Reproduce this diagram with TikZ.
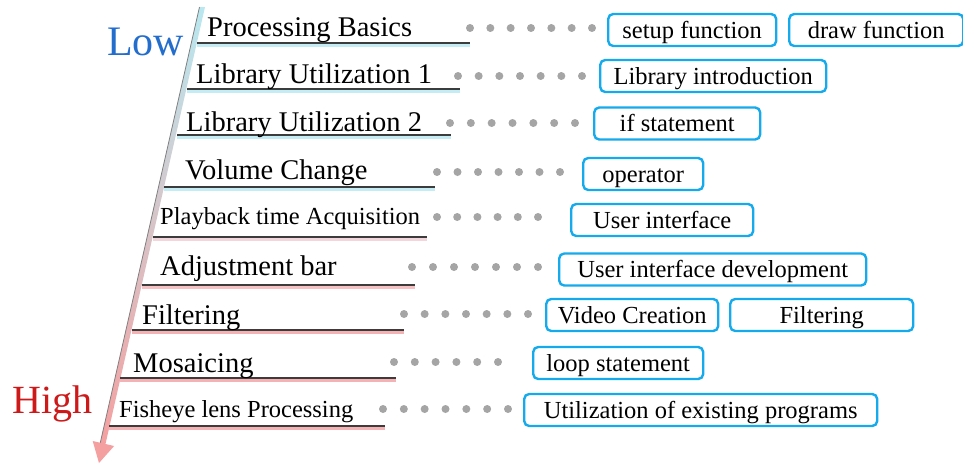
\documentclass[tikz,border=0pt]{standalone}
\usepackage{fontspec}
\setmainfont{Liberation Serif}
\usetikzlibrary{calc}
\definecolor{boxcyan}{RGB}{20,170,235}
\definecolor{dotgray}{RGB}{165,165,165}
\definecolor{rungdark}{RGB}{60,60,60}
\definecolor{rungblue}{RGB}{195,236,244}
\definecolor{runglightpink}{RGB}{242,214,220}
\definecolor{rungpink}{RGB}{245,178,180}
\definecolor{axisblue}{RGB}{185,232,240}
\definecolor{axismid}{RGB}{238,236,242}
\definecolor{axispink}{RGB}{245,160,160}
\definecolor{lowblue}{RGB}{35,110,205}
\definecolor{highred}{RGB}{205,25,25}

\begin{document}
\begin{tikzpicture}[x=1pt,y=-1pt,
    lvltext/.style={anchor=base west, inner sep=0pt, font=\fontsize{28.5}{31}\selectfont},
    lvlsmall/.style={lvltext, font=\fontsize{24.5}{28}\selectfont},
    topic/.style={draw=boxcyan, line width=2.4pt, rounded corners=5pt, anchor=west,
        minimum height=32pt, inner sep=0pt, text height=19pt, text depth=3pt,
        font=\fontsize{24.5}{28}\selectfont},
    rung/.style={draw=rungdark, line width=1.8pt},
    under/.style={line width=3pt},
    greydot/.style={fill=dotgray}]
    \useasboundingbox (0,0) rectangle (963,464);
    % Axis from Low to High
    \coordinate (axtop) at (202,7);
    \coordinate (axtip) at (99,463);
    \shade[top color=axisblue, middle color=axismid, bottom color=axispink]
        (199.5,7) -- (205,7) -- (105.5,444) -- (100,444) -- cycle;
    \draw[gray, line width=0.8pt] (199.5,7) -- (100,444);
    \fill[axispink] (92.7,441) -- (114.1,446) -- (axtip) -- cycle;
    \node[anchor=base west, inner sep=0pt, text=lowblue, font=\fontsize{42}{44}\selectfont] (low) at (107,55) {Low};
    \node[anchor=base west, inner sep=0pt, text=highred, font=\fontsize{40}{44}\selectfont] (high) at (12,413) {High};

    % Processing Basics
    \draw[under, rungblue] (197,45.5) -- (470,45.5);
    \draw[rung] (197,43) -- (470,43);
    \node[lvltext] (r1) at (207,36) {Processing Basics};
    \node[topic, minimum width=168pt] (b1a) at (607,30) {setup function};
    \node[topic, minimum width=174pt] (b1b) at (788,30) {draw function};
    \coordinate (d1s) at (470,28); \coordinate (d1e) at (592,28);
    \foreach \k in {0,...,6} \fill[greydot] ($(d1s)!\k/6!(d1e)$) circle[radius=4];

    % Library Utilization 1
    \draw[under, rungblue] (187,91.5) -- (460,91.5);
    \draw[rung] (187,89) -- (460,89);
    \node[lvltext] (r2) at (196,83) {Library Utilization 1};
    \node[topic, minimum width=226pt] (b2) at (599,76) {Library introduction};
    \coordinate (d2s) at (458,76); \coordinate (d2e) at (582,76);
    \foreach \k in {0,...,6} \fill[greydot] ($(d2s)!\k/6!(d2e)$) circle[radius=4];

    % Library Utilization 2
    \draw[under, rungblue] (177,137.5) -- (451,137.5);
    \draw[rung] (177,135) -- (451,135);
    \node[lvltext] (r3) at (186,131) {Library Utilization 2};
    \node[topic, minimum width=166pt] (b3) at (593,123.5) {if statement};
    \coordinate (d3s) at (450,123); \coordinate (d3e) at (575,123);
    \foreach \k in {0,...,6} \fill[greydot] ($(d3s)!\k/6!(d3e)$) circle[radius=4];

    % Volume Change
    \draw[under, rungblue] (164,189.5) -- (435,189.5);
    \draw[rung] (164,187) -- (435,187);
    \node[lvltext] (r4) at (185,179) {Volume Change};
    \node[topic, minimum width=120pt] (b4) at (582,174) {operator};
    \coordinate (d4s) at (437,172); \coordinate (d4e) at (560,172);
    \foreach \k in {0,...,6} \fill[greydot] ($(d4s)!\k/6!(d4e)$) circle[radius=4];

    % Playback time Acquisition
    \draw[under, runglightpink] (153,239.5) -- (427,239.5);
    \draw[rung] (153,237) -- (427,237);
    \node[lvlsmall] (r5) at (160,224) {Playback time Acquisition};
    \node[topic, minimum width=182pt] (b5) at (570,220) {User interface};
    \coordinate (d5s) at (437,217); \coordinate (d5e) at (538,217);
    \foreach \k in {0,...,5} \fill[greydot] ($(d5s)!\k/5!(d5e)$) circle[radius=4];

    % Adjustment bar
    \draw[under, rungpink!80!white] (142,287.5) -- (415,287.5);
    \draw[rung] (142,285) -- (415,285);
    \node[lvltext] (r6) at (160,275) {Adjustment bar};
    \node[topic, minimum width=307pt] (b6) at (558,269.5) {User interface development};
    \coordinate (d6s) at (412,267); \coordinate (d6e) at (538,267);
    \foreach \k in {0,...,6} \fill[greydot] ($(d6s)!\k/6!(d6e)$) circle[radius=4];

    % Filtering
    \draw[under, rungpink] (132,332.5) -- (404,332.5);
    \draw[rung] (132,330) -- (404,330);
    \node[lvltext] (r7) at (142,324) {Filtering};
    \node[topic, minimum width=172pt] (b7a) at (545,315) {Video Creation};
    \node[topic, minimum width=183pt] (b7b) at (729,315) {Filtering};
    \coordinate (d7s) at (404,314); \coordinate (d7e) at (528,314);
    \foreach \k in {0,...,6} \fill[greydot] ($(d7s)!\k/6!(d7e)$) circle[radius=4];

    % Mosaicing
    \draw[under, rungpink] (120,380.5) -- (396,380.5);
    \draw[rung] (120,378) -- (396,378);
    \node[lvltext] (r8) at (133,372) {Mosaicing};
    \node[topic, minimum width=170pt] (b8) at (532,363) {loop statement};
    \coordinate (d8s) at (394,362); \coordinate (d8e) at (498,362);
    \foreach \k in {0,...,5} \fill[greydot] ($(d8s)!\k/5!(d8e)$) circle[radius=4];

    % Fisheye lens Processing
    \draw[under, rungpink] (109,428.5) -- (385,428.5);
    \draw[rung] (109,426) -- (385,426);
    \node[lvlsmall] (r9) at (119,417) {Fisheye lens Processing};
    \node[topic, minimum width=353pt] (b9) at (523,410) {Utilization of existing programs};
    \coordinate (d9s) at (383,409); \coordinate (d9e) at (508,409);
    \foreach \k in {0,...,6} \fill[greydot] ($(d9s)!\k/6!(d9e)$) circle[radius=4];
\end{tikzpicture}
\end{document}
